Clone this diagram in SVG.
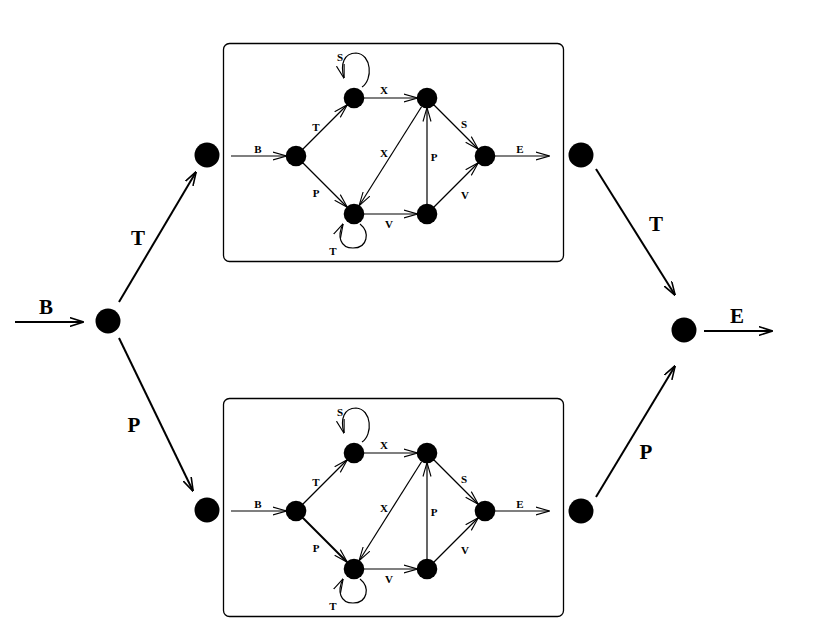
<svg xmlns="http://www.w3.org/2000/svg" width="832" height="632" viewBox="0 0 832 632">
<style>
.n{fill:#000}
.e{fill:none;stroke:#000;stroke-width:1.2;marker-end:url(#a)}
.o{fill:none;stroke:#000;stroke-width:2;marker-end:url(#b)}
.box{fill:none;stroke:#000;stroke-width:1.3}
.s{font-family:"Liberation Serif",serif;font-weight:bold;font-size:11px;text-anchor:middle}
.L{font-family:"Liberation Serif",serif;font-weight:bold;font-size:21px;text-anchor:middle}
</style>
<defs>
<marker id="a" markerUnits="userSpaceOnUse" viewBox="0 0 14 10" refX="13.5" refY="5" markerWidth="14" markerHeight="10" orient="auto"><path d="M0,1 L14,5 L0,9" fill="none" stroke="#000" stroke-width="1.1"/></marker>
<marker id="b" markerUnits="userSpaceOnUse" viewBox="0 0 14 10" refX="13.5" refY="5" markerWidth="14" markerHeight="10" orient="auto"><path d="M0,0.5 L14,5 L0,9.5" fill="none" stroke="#000" stroke-width="1.6"/></marker>
</defs>
<rect width="832" height="632" fill="#fff"/>
<g id="connectors">
<path class="o" d="M15,322 L83,322"/>
<path class="o" d="M119,302 L196,172"/>
<path class="o" d="M119,338 L193,491"/>
<path class="o" d="M596,169 L675,295"/>
<path class="o" d="M596,497 L675,366"/>
<path class="o" d="M704,331 L772,331"/>
</g>
<g id="outer-labels">
<text class="L" x="46" y="314">B</text>
<text class="L" x="138" y="245">T</text>
<text class="L" x="134" y="432">P</text>
<text class="L" x="656" y="231">T</text>
<text class="L" x="646" y="459">P</text>
<text class="L" x="737" y="323">E</text>
</g>
<g id="root"><circle class="n" cx="108" cy="321" r="12.5"/></g>
<g id="top-in"><circle class="n" cx="207" cy="155" r="12.5"/></g>
<g id="bot-in"><circle class="n" cx="207" cy="510" r="12.5"/></g>
<g id="top-out"><circle class="n" cx="581" cy="155" r="12.5"/></g>
<g id="bot-out"><circle class="n" cx="581" cy="511" r="12.5"/></g>
<g id="final"><circle class="n" cx="684" cy="330" r="12.5"/></g>

<g id="top-box">
<rect class="box" x="223.5" y="43.5" width="340" height="218" rx="6"/>
<g id="top-edges">
<path class="e" d="M231,156 L286,156"/>
<path class="e" d="M303,149 L347,105"/>
<path class="e" d="M303,163 L347,207"/>
<path class="e" d="M364,98 L417,98"/>
<path class="e" d="M421.7,106.5 L359.3,205.5"/>
<path class="e" d="M427,204 L427,108"/>
<path class="e" d="M434,105 L478,149"/>
<path class="e" d="M364,214 L417,214"/>
<path class="e" d="M434,207 L478,163"/>
<path class="e" d="M495,156 L549,156"/>
<path class="e" d="M362,87 C373,80 372,54 356,53 C344,53 340,64 344,78"/>
<path class="e" d="M360,224 C370,232 368,248 353,248 C340,248 337,236 343,224"/>
</g>
<g id="top-n1"><circle class="n" cx="296" cy="156" r="10.3"/></g>
<g id="top-n2"><circle class="n" cx="354" cy="98" r="10.3"/></g>
<g id="top-n3"><circle class="n" cx="354" cy="214" r="10.3"/></g>
<g id="top-n4"><circle class="n" cx="427" cy="98" r="10.3"/></g>
<g id="top-n5"><circle class="n" cx="427" cy="214" r="10.3"/></g>
<g id="top-n6"><circle class="n" cx="485" cy="156" r="10.3"/></g>
<g id="top-labels">
<text class="s" x="258" y="153">B</text>
<text class="s" x="316" y="131">T</text>
<text class="s" x="316" y="197">P</text>
<text class="s" x="384" y="94">X</text>
<text class="s" x="384" y="157">X</text>
<text class="s" x="434" y="161">P</text>
<text class="s" x="464" y="128">S</text>
<text class="s" x="389" y="228">V</text>
<text class="s" x="465" y="199">V</text>
<text class="s" x="520" y="153">E</text>
<text class="s" x="340" y="61">S</text>
<text class="s" x="333" y="255">T</text>
</g>
</g>

<g id="bottom-box" transform="translate(0,355)">
<rect class="box" x="223.5" y="43.5" width="340" height="218" rx="6"/>
<g id="bottom-edges">
<path class="e" d="M231,156 L286,156"/>
<path class="e" d="M303,149 L347,105"/>
<path class="e" d="M303,163 L347,207" style="stroke-width:1.9"/>
<path class="e" d="M364,98 L417,98"/>
<path class="e" d="M421.7,106.5 L359.3,205.5"/>
<path class="e" d="M427,204 L427,108"/>
<path class="e" d="M434,105 L478,149"/>
<path class="e" d="M364,214 L417,214"/>
<path class="e" d="M434,207 L478,163"/>
<path class="e" d="M495,156 L549,156"/>
<path class="e" d="M362,87 C373,80 372,54 356,53 C344,53 340,64 344,78"/>
<path class="e" d="M360,224 C370,232 368,248 353,248 C340,248 337,236 343,224"/>
</g>
<g id="bot-n1"><circle class="n" cx="296" cy="156" r="10.3"/></g>
<g id="bot-n2"><circle class="n" cx="354" cy="98" r="10.3"/></g>
<g id="bot-n3"><circle class="n" cx="354" cy="214" r="10.3"/></g>
<g id="bot-n4"><circle class="n" cx="427" cy="98" r="10.3"/></g>
<g id="bot-n5"><circle class="n" cx="427" cy="214" r="10.3"/></g>
<g id="bot-n6"><circle class="n" cx="485" cy="156" r="10.3"/></g>
<g id="bottom-labels">
<text class="s" x="258" y="153">B</text>
<text class="s" x="316" y="131">T</text>
<text class="s" x="316" y="197">P</text>
<text class="s" x="384" y="94">X</text>
<text class="s" x="384" y="157">X</text>
<text class="s" x="434" y="161">P</text>
<text class="s" x="464" y="128">S</text>
<text class="s" x="389" y="228">V</text>
<text class="s" x="465" y="199">V</text>
<text class="s" x="520" y="153">E</text>
<text class="s" x="340" y="61">S</text>
<text class="s" x="333" y="255">T</text>
</g>
</g>
</svg>
